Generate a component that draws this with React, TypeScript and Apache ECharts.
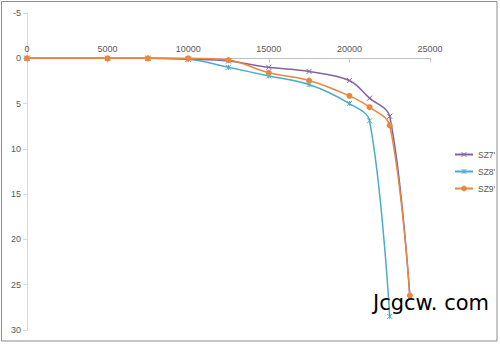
import React, { useEffect, useRef } from "react";
import * as echarts from "echarts";

const seriesNames = ["SZ7'", "SZ8'", "SZ9'"];
const xSZ7 = [0, 5000, 7500, 10000, 12500, 15000, 17500, 20000, 21250, 22500, 23750];
const ySZ7 = [0, 0, 0, 0.1, 0.3, 1.0, 1.45, 2.45, 4.4, 6.4, 26.4];
const xSZ8 = [0, 5000, 7500, 10000, 12500, 15000, 17500, 20000, 21250, 22500];
const ySZ8 = [0, 0, 0, 0.1, 1.0, 1.95, 2.9, 5.0, 6.9, 28.5];
const xSZ9 = [0, 5000, 7500, 10000, 12500, 15000, 17500, 20000, 21250, 22500, 23750];
const ySZ9 = [0, 0, 0, 0, 0.2, 1.6, 2.45, 4.15, 5.4, 7.4, 26.2];
const colors = ["#7F63A3", "#4BACC6", "#E8873F"];
const watermark = "Jcgcw. com";

const pair = (xs: number[], ys: number[]) => xs.map((x, i) => [x, ys[i]]);

export default function App() {
  const ref = useRef<HTMLDivElement>(null);
  useEffect(() => {
    document.body.style.margin = "0";
    const chart = echarts.init(ref.current!, undefined, { renderer: "svg" });
    const font = "Liberation Sans";
    const symbols = [
      "path://M0,0L10,10M10,0L0,10",
      "path://M0,0L10,10M10,0L0,10M5,0L5,10",
      "circle",
    ];
    const datas = [pair(xSZ7, ySZ7), pair(xSZ8, ySZ8), pair(xSZ9, ySZ9)];
    const gridTop = 13;
    const gridHeight = 317;
    const yMin = -5;
    const yMax = 30;
    const zeroOffset = (gridHeight * (0 - yMin)) / (yMax - yMin);
    chart.setOption({
      animation: false,
      textStyle: { fontFamily: font },
      graphic: [
        {
          type: "rect",
          shape: { x: 1.5, y: 1.5, width: 495.5, height: 339.5 },
          style: { fill: "none", stroke: "#8c8c8c", lineWidth: 1 },
          silent: true,
        },
        {
          type: "text",
          left: 373,
          top: 292,
          style: { text: watermark, fontSize: 21, fill: "#000", fontFamily: "DejaVu Sans" },
          z: 100,
        },
      ],
      grid: { left: 27, top: gridTop, width: 403, height: gridHeight, containLabel: false },
      legend: {
        orient: "vertical",
        left: 454,
        top: 150,
        padding: 0,
        itemWidth: 18,
        itemHeight: 6,
        itemGap: 8,
        textStyle: { fontSize: 8.5, color: "#595959", fontFamily: font },
        itemStyle: { borderWidth: 1 },
        data: seriesNames,
      },
      xAxis: {
        type: "value",
        min: 0,
        max: 25000,
        interval: 5000,
        position: "top",
        offset: -zeroOffset,
        axisLine: { show: true, onZero: false, lineStyle: { color: "#bfbfbf" } },
        axisTick: { show: true, inside: true, length: 4, lineStyle: { color: "#bfbfbf" } },
        axisLabel: { fontSize: 9, color: "#595959", margin: 5, formatter: (v: number) => String(v) },
        splitLine: { show: false },
      },
      yAxis: {
        type: "value",
        inverse: true,
        min: yMin,
        max: yMax,
        interval: 5,
        axisLine: { show: true, lineStyle: { color: "#d9d9d9" } },
        axisTick: { show: true, length: 4, lineStyle: { color: "#d9d9d9" } },
        axisLabel: { fontSize: 9, color: "#595959", margin: 6 },
        splitLine: { show: false },
      },
      series: seriesNames.map((name, i) => ({
        name,
        type: "line",
        data: datas[i],
        smooth: 0.35,
        symbol: symbols[i],
        symbolSize: i === 2 ? 6 : 5,
        showAllSymbol: true,
        lineStyle: { color: colors[i], width: 1.5 },
        itemStyle: {
          color: i === 2 ? colors[i] : "rgba(0,0,0,0)",
          borderColor: colors[i],
          borderWidth: i === 2 ? 0 : 1,
        },
      })),
    });
    return () => chart.dispose();
  }, []);
  return <div ref={ref} style={{ width: 500, height: 345, background: "#fff" }} />;
}
